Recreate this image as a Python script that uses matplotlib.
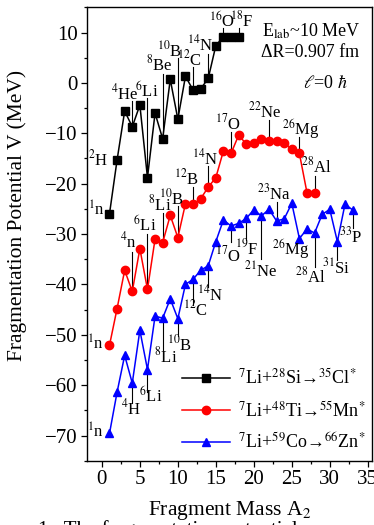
import matplotlib
matplotlib.use('Agg')
import matplotlib.pyplot as plt
from matplotlib.ticker import MultipleLocator

plt.rcParams['font.family'] = ['Liberation Serif', 'DejaVu Serif']
plt.rcParams['mathtext.fontset'] = 'stix'

# ---------------- data ----------------
A_si = list(range(1, 19))
V_si = [-26.0, -15.3, -5.6, -8.7, -4.4, -18.8, -6.0, -11.1, 0.7, -7.2,
        1.3, -1.4, -1.2, 0.9, 7.4, 9.2, 9.2, 9.2]
A_ti = list(range(1, 29))
V_ti = [-52.1, -44.8, -37.2, -41.4, -32.9, -41.0, -31.0, -31.7, -26.3, -30.7,
        -24.0, -24.1, -23.0, -20.7, -18.8, -13.5, -14.0, -10.4, -12.1, -12.0,
        -11.2, -11.5, -11.5, -11.9, -13.2, -14.0, -21.8, -21.8]
A_co = list(range(1, 34))
V_co = [-69.6, -61.4, -54.1, -59.6, -49.1, -56.9, -46.3, -46.7, -42.9, -46.8,
        -40.0, -39.0, -37.2, -36.3, -31.5, -27.2, -28.4, -27.9, -26.9, -25.2,
        -26.4, -25.1, -27.4, -27.0, -23.9, -30.9, -29.0, -29.8, -26.1, -25.1,
        -31.5, -24.1, -25.2]

series_labels = [r'$^{7}$Li+$^{28}$Si→$^{35}$Cl$^{*}$',
                 r'$^{7}$Li+$^{48}$Ti→$^{55}$Mn$^{*}$',
                 r'$^{7}$Li+$^{59}$Co→$^{66}$Zn$^{*}$']

# fragment labels: (text, fragment mass it points to)
si_frag = [(r'$^{1}$n', 1), (r'$^{2}$H', 2), (r'$^{4}$He', 4), (r'$^{6}$Li', 6),
           (r'$^{8}$Be', 8), (r'$^{10}$B', 10), (r'$^{12}$C', 12), (r'$^{14}$N', 14),
           (r'$^{16}$O', 16), (r'$^{18}$F', 18)]
ti_frag = [(r'$^{1}$n', 1), (r'$^{4}$n', 4), (r'$^{6}$Li', 6), (r'$^{8}$Li', 8),
           (r'$^{10}$B', 10), (r'$^{12}$B', 12), (r'$^{14}$N', 14), (r'$^{17}$O', 17),
           (r'$^{22}$Ne', 22), (r'$^{26}$Mg', 26), (r'$^{28}$Al', 28)]
co_frag = [(r'$^{1}$n', 1), (r'$^{4}$H', 4), (r'$^{6}$Li', 6), (r'$^{8}$Li', 8),
           (r'$^{10}$B', 10), (r'$^{12}$C', 12), (r'$^{14}$N', 14), (r'$^{17}$O', 17),
           (r'$^{19}$F', 19), (r'$^{21}$Ne', 21), (r'$^{23}$Na', 23), (r'$^{26}$Mg', 26),
           (r'$^{28}$Al', 28), (r'$^{31}$Si', 31), (r'$^{33}$P', 33)]

# layout of the fragment labels: (text x, text baseline y, ha, line end y or None)
si_pos = [(0.35, -26.4, 'right', None), (0.9, -16.4, 'right', None),
          (3.07, -3.2, 'center', -3.6), (5.88, -2.7, 'center', -3.0),
          (7.6, 2.45, 'center', 1.8), (8.93, 5.2, 'center', 4.9),
          (11.57, 3.45, 'center', 3.2), (13.0, 6.4, 'center', 5.7),
          (15.85, 11.2, 'center', 10.9), (18.45, 11.2, 'center', 10.9)]
ti_pos = [(0.25, -52.9, 'right', None), (3.5, -32.7, 'center', -33.5),
          (5.6, -29.4, 'center', -29.9), (7.55, -25.4, 'center', -25.9),
          (9.17, -24.1, 'center', -24.5), (11.2, -20.1, 'center', -20.6),
          (13.6, -16.1, 'center', -16.4), (16.57, -9.2, 'center', -9.7),
          (21.5, -6.8, 'center', -7.4), (26.2, -10.2, 'center', -10.8),
          (28.3, -17.8, 'center', -18.5)]
co_pos = [(0.25, -70.5, 'right', None), (3.83, -65.8, 'center', -63.5),
          (6.43, -63.4, 'center', -61.4), (8.38, -55.4, 'center', -53.3),
          (10.27, -53.1, 'center', -50.3), (12.3, -46.1, 'center', -44.1),
          (14.3, -43.1, 'center', -40.5), (16.57, -35.5, 'center', -31.5),
          (19.0, -34.0, 'center', -31.2), (20.86, -38.5, 'center', -35.0),
          (22.6, -23.1, 'center', -23.6), (24.8, -34.2, 'center', None),
          (27.4, -39.7, 'center', -36.5), (30.85, -37.8, 'center', -35.2),
          (32.7, -31.7, 'center', -28.9)]

# ---------------- figure ----------------
fig = plt.figure(figsize=(3.74, 5.25), dpi=100)
ax = fig.add_axes([0.2318, 0.1225, 0.7637, 0.8635])

ax.plot(A_si, V_si, '-s', color='black', lw=1.1, ms=5.4, label=series_labels[0])
ax.plot(A_ti, V_ti, '-o', color='red', lw=1.1, ms=6.0, label=series_labels[1])
ax.plot(A_co, V_co, '-^', color='blue', lw=1.1, ms=6.2, label=series_labels[2])

lab_fs = 12
for frags, pos, A, V in [(si_frag, si_pos, A_si, V_si),
                         (ti_frag, ti_pos, A_ti, V_ti),
                         (co_frag, co_pos, A_co, V_co)]:
    for (txt, a), (tx, ty, ha, ly) in zip(frags, pos):
        ax.text(tx, ty, txt, ha=ha, va='baseline', fontsize=lab_fs)
        if ly is not None:
            v = V[A.index(a)]
            ax.plot([a, a], [v, ly], color='black', lw=0.8, zorder=1)

ax.text(21.08, 9.2, r'E$_{\mathrm{lab}}$~10 MeV', fontsize=13, ha='left', va='baseline')
ax.text(20.9, 5.2, 'ΔR=0.907 fm', fontsize=13, ha='left', va='baseline')
ax.text(26.5, -1.05, r'$\ell$=0 $\hbar$', fontsize=13, ha='left', va='baseline')

ax.set_xlim(-2, 35.6)
ax.set_ylim(-75, 15)
ax.xaxis.set_major_locator(MultipleLocator(5))
ax.xaxis.set_minor_locator(MultipleLocator(2.5))
ax.yaxis.set_major_locator(MultipleLocator(10))
ax.yaxis.set_minor_locator(MultipleLocator(5))
ax.tick_params(which='both', direction='out', top=False, right=False, labelsize=15, pad=2)
ax.tick_params(which='major', length=4.5, width=0.9)
ax.tick_params(which='minor', length=2.5, width=0.9)
for s in ax.spines.values():
    s.set_linewidth(1.0)

ax.set_xlabel(r'Fragment Mass A$_{2}$', fontsize=15.5)
ax.xaxis.set_label_coords(0.5, -0.085)
ax.set_ylabel('Fragmentation Potential V (MeV)', fontsize=15.5)
ax.yaxis.set_label_coords(-0.209, 0.542)

ax.legend(loc='lower right', frameon=False, fontsize=13, handlelength=2.7,
          handletextpad=0.4, labelspacing=0.68, borderaxespad=0.0,
          bbox_to_anchor=(1.0, 0.002))

fig.text(38 / 374, 1 - 535 / 525, '1.  The fragmentation potential', fontsize=15,
         ha='left', va='baseline')

fig.savefig('out.png', dpi=100)
